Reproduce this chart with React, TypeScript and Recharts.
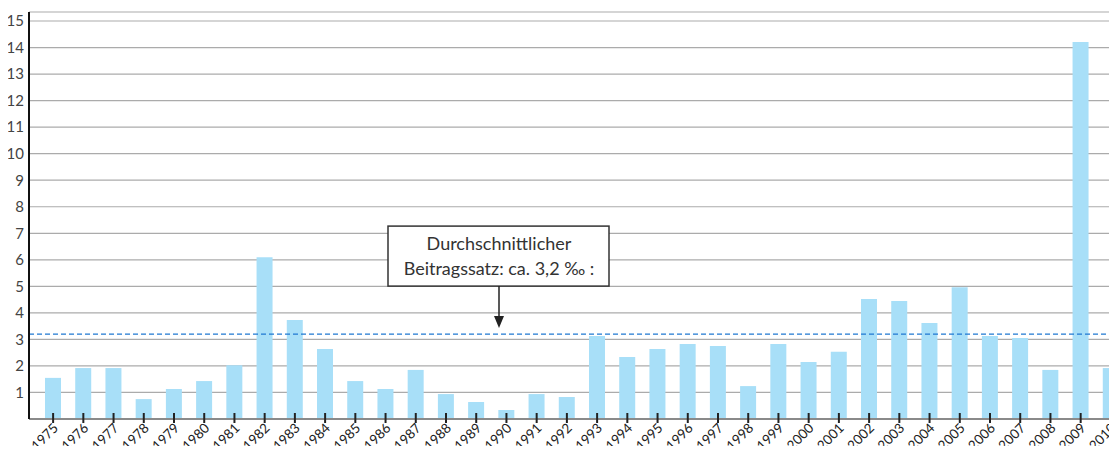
import { BarChart, Bar, XAxis, YAxis, CartesianGrid, ReferenceLine } from 'recharts';

const years = [
  '1975', '1976', '1977', '1978', '1979', '1980', '1981', '1982', '1983', '1984',
  '1985', '1986', '1987', '1988', '1989', '1990', '1991', '1992', '1993', '1994',
  '1995', '1996', '1997', '1998', '1999', '2000', '2001', '2002', '2003', '2004',
  '2005', '2006', '2007', '2008', '2009', '2010',
];

const rates = [
  1.55, 1.92, 1.92, 0.75, 1.13, 1.43, 2.03, 6.1, 3.73, 2.64,
  1.43, 1.13, 1.85, 0.94, 0.64, 0.34, 0.94, 0.83, 3.13, 2.34,
  2.64, 2.83, 2.75, 1.24, 2.83, 2.15, 2.53, 4.52, 4.45, 3.62,
  4.97, 3.13, 3.05, 1.85, 14.21, 1.92,
];

const yTicks = [1, 2, 3, 4, 5, 6, 7, 8, 9, 10, 11, 12, 13, 14, 15];

const average = 3.2;
const noteLines = ['Durchschnittlicher', 'Beitragssatz: ca. 3,2 ‰ :'];

const data = years.map((year, i) => ({ year, rate: rates[i] }));

const FONT = 'Lato, "Open Sans", sans-serif';

// rotated year label with a small tick crossing the axis
// (y arrives already shifted 8px below the axis line)
function YearTick(props: any) {
  const { x, y, payload } = props;
  const ax = x + 6;
  const ay = y + 2;
  return (
    <g>
      <line x1={x} x2={x} y1={y - 14} y2={y - 4} stroke="#222" strokeWidth={2} />
      <text
        x={ax}
        y={ay}
        transform={`rotate(-45, ${ax}, ${ay})`}
        textAnchor="end"
        fontSize={13.5}
        fontFamily={FONT}
        fill="#222"
      >
        {payload.value}
      </text>
    </g>
  );
}

// annotation box with arrow pointing at the average line
function AverageNote(props: any) {
  const { viewBox } = props;
  const lineY = viewBox.y;
  const cx = 499;
  const boxW = 221;
  const boxH = 60;
  const boxTop = lineY - 108;
  return (
    <g>
      <rect
        x={cx - 111}
        y={boxTop}
        width={boxW}
        height={boxH}
        fill="#fff"
        stroke="#333"
        strokeWidth={1.5}
      />
      {noteLines.map((t, i) => (
        <text
          key={i}
          x={cx}
          y={boxTop + 24 + i * 25}
          textAnchor="middle"
          fontSize={18}
          fontFamily={FONT}
          fill="#333"
        >
          {t}
        </text>
      ))}
      <line x1={cx} x2={cx} y1={boxTop + boxH} y2={lineY - 16} stroke="#222" strokeWidth={1.5} />
      <polygon
        points={`${cx - 5},${lineY - 18} ${cx + 5},${lineY - 18} ${cx},${lineY - 6}`}
        fill="#222"
      />
    </g>
  );
}

export default function App() {
  return (
    <div style={{ margin: -8, width: 1117, height: 454, overflow: 'hidden', background: '#fff' }}>
      <BarChart
        width={1126}
        height={454}
        data={data}
        margin={{ top: 12, right: 0, left: 0, bottom: 0 }}
      >
        <CartesianGrid vertical={false} stroke="#ababab" strokeWidth={1.2} />
        <XAxis
          dataKey="year"
          interval={0}
          padding={{ left: 9, right: 0 }}
          axisLine={{ stroke: '#8a8a8a', strokeWidth: 2 }}
          tickLine={false}
          tick={<YearTick />}
          height={35}
        />
        <YAxis
          domain={[0, 15.34]}
          ticks={yTicks}
          allowDataOverflow
          width={29}
          tickLine={false}
          tickSize={0}
          tickMargin={5}
          axisLine={{ stroke: '#111', strokeWidth: 2 }}
          tick={{ fontSize: 15, fill: '#444', fontFamily: FONT }}
        />
        <Bar dataKey="rate" fill="#a8dff8" barSize={16} isAnimationActive={false} />
        <ReferenceLine
          y={average}
          stroke="#1f78d1"
          strokeWidth={1.2}
          strokeDasharray="5 3"
          label={<AverageNote />}
        />
      </BarChart>
    </div>
  );
}
